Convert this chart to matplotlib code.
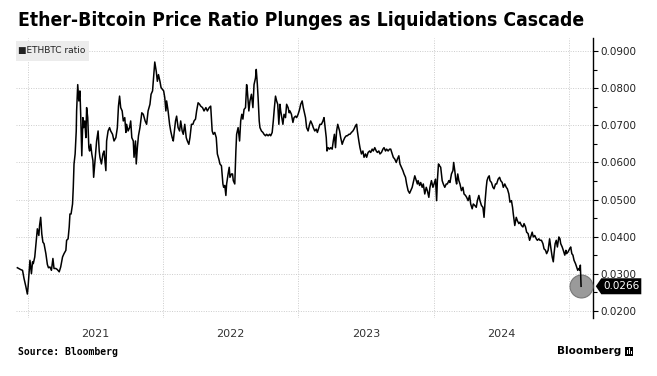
import datetime as dt
import matplotlib
matplotlib.use("Agg")
import matplotlib.pyplot as plt
import matplotlib.dates as mdates
from matplotlib.ticker import FixedLocator, FixedFormatter, MultipleLocator, FuncFormatter, NullFormatter
from matplotlib.patches import Rectangle, Polygon
from matplotlib.transforms import IdentityTransform

# ---------------- data (days since 2021-01-01, ETH/BTC ratio) ----------------
days = [
    -29, -20, -15, -11, -6, -2, 0, 3, 5, 9, 12, 14, 18, 22, 25, 29, 31, 34, 37, 40, 43, 48, 52, 55, 59,
    63, 67, 70, 75, 79, 84, 88, 93, 97, 102, 104, 108, 111, 113, 116, 120, 122, 124, 127, 130, 131, 134,
    137, 140, 142, 145, 148, 150, 153, 156, 158, 161, 164, 166, 169, 172, 175, 177,
    182, 185, 189, 192, 194, 198, 202, 205, 210, 212, 216, 220, 223, 228, 232, 237, 241, 244, 247, 250,
    254, 257, 261, 264, 266, 270, 274, 277, 280, 284, 286, 290, 292, 295, 298, 302, 307, 311, 316, 320,
    324, 329, 332, 336, 338, 342, 346, 349, 352, 356, 359, 363, 366, 369, 372, 374, 378, 382, 385, 389,
    392, 394, 398, 401,
    405, 409, 412, 416, 419, 423, 427, 430, 434, 437, 441, 445, 448, 452, 455, 459, 463, 466, 471, 475,
    480, 484, 489, 493, 497, 500, 504, 508, 511, 515, 518, 522, 526, 528, 531, 534, 536, 540, 543, 545,
    549, 552, 554, 558, 561, 563, 567, 571, 574, 577, 580, 583, 587, 590, 592, 596, 599, 603, 607, 610,
    614, 616, 619,
    621, 624, 626, 630, 634, 637, 641, 644, 648, 652, 655, 659, 662, 665, 668, 671, 674, 677, 680, 682,
    685, 688, 691, 695, 698, 702, 705, 707, 711, 715, 718, 722, 725, 729, 733, 736, 740, 743, 745, 749,
    752, 756, 760, 763, 767, 770, 774, 778, 781, 785, 788, 792, 796, 799, 802, 805, 807, 810, 814, 817,
    821, 824, 827, 830, 833, 836,
    841, 844, 848, 851, 855, 859, 862, 866, 869, 873, 877, 880, 884, 887, 889, 893, 896, 900, 904, 907,
    911, 914, 918, 922, 925, 929, 932, 936, 940, 943, 947, 950, 954, 958, 961, 965, 968, 972, 976, 979,
    983, 986, 990, 994, 997, 1001, 1004, 1008, 1012, 1015, 1019, 1022, 1026, 1030, 1033, 1037, 1040,
    1044, 1048, 1051,
    1053, 1057, 1060, 1064, 1067, 1071, 1075, 1078, 1082, 1085, 1089, 1093, 1096, 1100, 1103, 1105, 1108,
    1111, 1114, 1118, 1121, 1125, 1129, 1132, 1136, 1139, 1143, 1147, 1149, 1152, 1155, 1157, 1160, 1163,
    1166, 1170, 1174, 1177, 1181, 1184, 1188, 1192, 1195, 1199, 1202, 1206, 1210, 1213, 1217, 1220, 1224,
    1228, 1231, 1234, 1237, 1239, 1242, 1245, 1247, 1251, 1255, 1258, 1262, 1265,
    1269, 1273, 1276, 1280, 1283, 1287, 1291, 1294, 1298, 1301, 1305, 1308, 1310, 1314, 1318, 1321, 1325,
    1328, 1332, 1336, 1339, 1343, 1346, 1350, 1354, 1357, 1361, 1364, 1368, 1372, 1375, 1379, 1382, 1386,
    1390, 1393, 1397, 1400, 1404, 1408, 1411, 1415, 1418, 1420, 1423, 1426, 1429, 1433, 1436, 1438, 1442,
    1445, 1449, 1452, 1454, 1458, 1462, 1465, 1468, 1471, 1474, 1478, 1481, 1484, 1487, 1490, 1491, 1493,
]

ratio = [
    .0316, .0311, .0309, .0287, .0265, .0245, .0265, .0309, .0336, .0300, .0332, .0327, .0345, .0390, .0421,
    .0403, .0430, .0452, .0407, .0385, .0381, .0354, .0325, .0316, .0318, .0309, .0341, .0314, .0314, .0311,
    .0305, .0318, .0345, .0354, .0363, .0390, .0394, .0426, .0461, .0461, .0488, .0533, .0596, .0623, .0685,
    .0739, .0810, .0766, .0793, .0730, .0618, .0721, .0694, .0712, .0667, .0748, .0721, .0640, .0631, .0649,
    .0623, .0605, .0560,
    .0623, .0658, .0685, .0631, .0614, .0596, .0623, .0631, .0578, .0658, .0685, .0694, .0685, .0676, .0658,
    .0667, .0694, .0752, .0779, .0748, .0739, .0712, .0721, .0681, .0703, .0685, .0694, .0712, .0667, .0658,
    .0614, .0658, .0596, .0640, .0672, .0694, .0734, .0730, .0712, .0703, .0739, .0757, .0784, .0793, .0819,
    .0871, .0846, .0819, .0837, .0819, .0802, .0797, .0793, .0775, .0739, .0766, .0739, .0703, .0685, .0667,
    .0658, .0676, .0712, .0725,
    .0694, .0685, .0712, .0685, .0676, .0703, .0667, .0658, .0649, .0667, .0703, .0703, .0712, .0717, .0739,
    .0761, .0757, .0752, .0748, .0739, .0748, .0739, .0748, .0752, .0685, .0676, .0681, .0667, .0623, .0609,
    .0596, .0591, .0542, .0533, .0538, .0511, .0542, .0569, .0587, .0560, .0569, .0569, .0551, .0542, .0631,
    .0676, .0694, .0658, .0712, .0730, .0717, .0743, .0748, .0810, .0793, .0739, .0766, .0784, .0748, .0810,
    .0828, .0851, .0810,
    .0775, .0712, .0694, .0685, .0681, .0676, .0672, .0676, .0672, .0676, .0672, .0681, .0712, .0748, .0779,
    .0766, .0757, .0703, .0757, .0739, .0721, .0703, .0730, .0721, .0757, .0748, .0734, .0739, .0730, .0708,
    .0721, .0725, .0721, .0730, .0743, .0757, .0766, .0748, .0739, .0721, .0694, .0685, .0703, .0712, .0703,
    .0694, .0685, .0690, .0681, .0694, .0703, .0703, .0712, .0721, .0694, .0667, .0631, .0640, .0636, .0640,
    .0636, .0658, .0676, .0640, .0685, .0703,
    .0685, .0667, .0649, .0658, .0667, .0672, .0672, .0676, .0676, .0681, .0685, .0690, .0699, .0703, .0685,
    .0658, .0640, .0623, .0631, .0614, .0623, .0614, .0627, .0631, .0627, .0636, .0631, .0640, .0631, .0627,
    .0631, .0623, .0627, .0636, .0640, .0631, .0636, .0631, .0636, .0636, .0623, .0614, .0609, .0600, .0609,
    .0618, .0596, .0587, .0578, .0569, .0560, .0542, .0524, .0517, .0524, .0533, .0546, .0564, .0551, .0542,
    .0551, .0538, .0546, .0533, .0542, .0515, .0533, .0524, .0506, .0533, .0551, .0533, .0542, .0555, .0497,
    .0551, .0596, .0591, .0587, .0551, .0542, .0533, .0542, .0542, .0551, .0546, .0569, .0578, .0600, .0578,
    .0551, .0542, .0569, .0551, .0542, .0524, .0533, .0515, .0511, .0506, .0497, .0511, .0488, .0475, .0488,
    .0484, .0479, .0497, .0511, .0497, .0484, .0479, .0452, .0497, .0533, .0551, .0560, .0564, .0551, .0546,
    .0533, .0529, .0542, .0542,
    .0555, .0560, .0551, .0546, .0533, .0542, .0533, .0529, .0515, .0493, .0497, .0479, .0461, .0430, .0452,
    .0443, .0435, .0439, .0430, .0426, .0435, .0426, .0412, .0408, .0390, .0399, .0412, .0399, .0403, .0394,
    .0390, .0394, .0390, .0390, .0381, .0367, .0363, .0354, .0363, .0394, .0372, .0345, .0332, .0354, .0381,
    .0390, .0372, .0399, .0394, .0381, .0372, .0363, .0350, .0363, .0354, .0359, .0367, .0372, .0354, .0350,
    .0336, .0327, .0318, .0309, .0314, .0309, .0323, .0266,
]
assert len(days) == len(ratio), (len(days), len(ratio))

start_date = dt.date(2021, 1, 1)
dates = [start_date + dt.timedelta(days=d) for d in days]

title_text = "Ether-Bitcoin Price Ratio Plunges as Liquidations Cascade"
series_label = "ETHBTC ratio"
year_labels = ["2021", "2022", "2023", "2024"]
grid_years = [2021, 2022, 2023, 2024, 2025]
y_ticks = [0.02, 0.03, 0.04, 0.05, 0.06, 0.07, 0.08, 0.09]
source_text = "Source: Bloomberg"
brand_text = "Bloomberg"

# ---------------- layout ----------------
W, H = 657, 376
fig = plt.figure(figsize=(W / 100, H / 100), dpi=100)
fig.patch.set_facecolor("white")


def fx(px):
    return px / W


def fy(py):
    return 1 - py / H


ax_l, ax_r, ax_t, ax_b = 15.5, 593.3, 38, 318
ax = fig.add_axes([fx(ax_l), fy(ax_b), (ax_r - ax_l) / W, (ax_b - ax_t) / H])
ax.set_facecolor("white")

ax.plot(dates, ratio, color="black", lw=1.1, zorder=4, solid_joinstyle="round")
ax.plot([dates[-1]], [ratio[-1]], "o", ms=16.5, mfc="#9a9a9a", mec="#777777", mew=0.8,
        zorder=3, clip_on=False)

ax.set_xlim(start_date - dt.timedelta(days=34), start_date + dt.timedelta(days=1526))
ax.set_ylim(0.01804, 0.09358)

for s in ["left", "top", "bottom"]:
    ax.spines[s].set_visible(False)
ax.spines["right"].set_color("black")
ax.spines["right"].set_linewidth(1.0)

# y axis on the right
ax.yaxis.tick_right()
ax.yaxis.set_major_locator(FixedLocator(y_ticks))
ax.yaxis.set_minor_locator(MultipleLocator(0.005))
ax.yaxis.set_major_formatter(FuncFormatter(lambda v, p: f"{v:.4f}"))
ax.yaxis.set_minor_formatter(NullFormatter())
ax.tick_params(axis="y", which="major", direction="out", length=3.5, width=0.8, color="black",
               labelsize=7.5, labelcolor="#222222", pad=1.5)
ax.tick_params(axis="y", which="minor", direction="out", length=3, width=0.8, color="black")

# x axis: gridlines at year starts, labels at mid-year
ax.xaxis.set_major_locator(FixedLocator([mdates.date2num(dt.date(y, 1, 1)) for y in grid_years]))
ax.xaxis.set_major_formatter(NullFormatter())
ax.xaxis.set_minor_locator(FixedLocator([mdates.date2num(dt.date(int(y), 7, 2)) for y in year_labels]))
ax.xaxis.set_minor_formatter(FixedFormatter(year_labels))
ax.tick_params(axis="x", which="both", length=0, labelsize=8, labelcolor="#333333", pad=8)

ax.grid(True, which="major", axis="both", color="#cccccc", lw=0.7, ls=(0, (1, 1.5)))
ax.set_axisbelow(True)

# legend box
fig.add_artist(Rectangle((fx(16), fy(61)), (89 - 16) / W, 20 / H, transform=fig.transFigure,
                         facecolor="#ececec", edgecolor="none", zorder=5))
fig.text(fx(18.5), fy(51), "\u25a0" + series_label, fontsize=6.5, color="#222222",
         va="center", ha="left", zorder=6)

# title (fit to target width)
title = fig.text(fx(18), fy(21), title_text, fontsize=13, fontweight="bold",
                 fontstretch="condensed", va="center", ha="left", color="black")
fig.canvas.draw()
w = title.get_window_extent().width
title.set_fontsize(13 * (585 - 18) / w)

# source
fig.text(fx(18), fy(352), source_text, fontsize=7, fontweight="bold", family="DejaVu Sans Mono",
         va="center", ha="left", color="black")

# brand
brand = fig.text(fx(557), fy(351), brand_text, fontsize=9, fontweight="bold",
                 va="center", ha="left", color="black")
fig.canvas.draw()
bw = brand.get_window_extent().width
brand.set_fontsize(9 * (620 - 557) / bw)
fig.add_artist(Rectangle((fx(625), fy(355.5)), 8 / W, 9 / H, transform=fig.transFigure,
                         facecolor="black", edgecolor="none", zorder=5))
for bx, bh in [(627, 4), (629, 6), (631, 3)]:
    fig.add_artist(Rectangle((fx(bx), fy(353.5)), 1 / W, bh / H, transform=fig.transFigure,
                             facecolor="white", edgecolor="none", zorder=6))

# last value tag
fig.canvas.draw()
_, yc = ax.transData.transform((mdates.date2num(dates[-1]), ratio[-1]))
xa = ax.transAxes.transform((1.0, 0.0))[0]
tag = Polygon([(xa + 2.5, yc), (xa + 8, yc + 8), (xa + 48, yc + 8), (xa + 48, yc - 8), (xa + 8, yc - 8)],
              closed=True, transform=IdentityTransform(), facecolor="black", edgecolor="none", zorder=7)
fig.add_artist(tag)
fig.text(xa + 28, yc, f"{ratio[-1]:.4f}", transform=IdentityTransform(), color="white",
         fontsize=7.5, va="center", ha="center", zorder=8)

fig.savefig("out.png", dpi=100, facecolor="white")
